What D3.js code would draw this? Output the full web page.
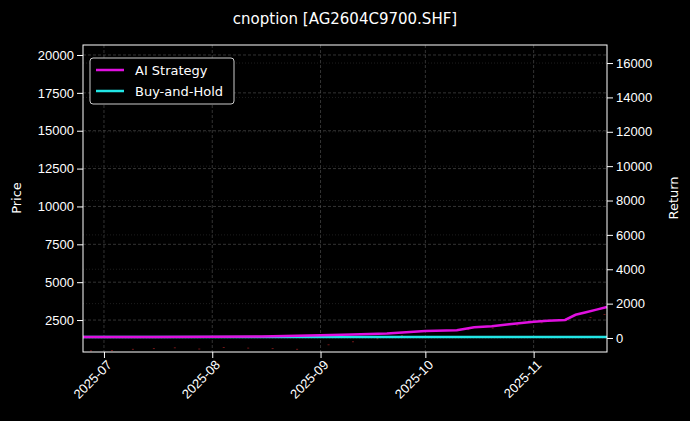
<!DOCTYPE html><html><head><meta charset="utf-8"><script src="https://d3js.org/d3.v7.min.js"></script>
<style>body{margin:0;background:#000}svg{font-family:"DejaVu Sans",sans-serif}</style></head><body><svg id="c" width="690" height="421"></svg>
<script>
const title="cnoption [AG2604C9700.SHF]";
const priceTicks=[2500,5000,7500,10000,12500,15000,17500,20000];
const returnTicks=[0,2000,4000,6000,8000,10000,12000,14000,16000];
const monthTicks=["2025-07-01","2025-08-01","2025-09-01","2025-10-01","2025-11-01"];
const aiDates=["2025-06-25","2025-07-15","2025-08-01","2025-08-15","2025-09-01","2025-09-10","2025-09-20","2025-10-01","2025-10-10","2025-10-15","2025-10-20","2025-10-25","2025-11-01","2025-11-05","2025-11-10","2025-11-13","2025-11-16","2025-11-19","2025-11-22"];
const aiValues=[60,60,70,90,160,210,260,400,450,620,680,800,950,1000,1050,1350,1500,1650,1800];
const bhDates=["2025-06-25","2025-11-22"];
const bhValues=[60,60];
const candleDates=["2025-06-27","2025-07-03","2025-07-09","2025-07-15","2025-07-21","2025-07-28","2025-08-04","2025-08-11","2025-08-18","2025-08-25","2025-09-03","2025-09-10","2025-09-17","2025-09-24","2025-10-13","2025-10-20","2025-10-27","2025-11-03","2025-11-10","2025-11-17","2025-11-21"];
const candleValues=[500,520,600,650,700,620,720,680,650,600,900,1100,1300,1500,1900,2000,2200,2350,2500,2700,2900];
const W=690,H=421,m={l:83,r:607,t:45,b:352};
const svg=d3.select("#c");
svg.append("rect").attr("width",W).attr("height",H).attr("fill","#000");
const p=d=>d3.timeParse("%Y-%m-%d")(d);
const x=d3.scaleTime().domain([p("2025-06-25"),p("2025-11-22")]).range([m.l,m.r]);
const yL=d3.scaleLinear().domain([390,20660]).range([m.b,m.t]);
const yR=d3.scaleLinear().domain([-815,17050]).range([m.b,m.t]);
const g=svg.append("g");
monthTicks.forEach(d=>g.append("line").attr("x1",x(p(d))).attr("x2",x(p(d))).attr("y1",m.t).attr("y2",m.b).attr("stroke","#555").attr("stroke-dasharray","3,2").attr("stroke-width",0.6));
priceTicks.forEach(v=>g.append("line").attr("x1",m.l).attr("x2",m.r).attr("y1",yL(v)).attr("y2",yL(v)).attr("stroke","#555").attr("stroke-dasharray","3,2").attr("stroke-width",0.6));
returnTicks.forEach(v=>g.append("line").attr("x1",m.l).attr("x2",m.r).attr("y1",yR(v)).attr("y2",yR(v)).attr("stroke","#333").attr("stroke-dasharray","1,2").attr("stroke-width",0.6));
candleDates.forEach((d,i)=>g.append("rect").attr("x",x(p(d))).attr("y",yL(candleValues[i])).attr("width",2).attr("height",1).attr("fill","#a02020").attr("opacity",0.7));
const line=(ds,vs)=>d3.line().x((d,i)=>x(p(ds[i]))).y((d,i)=>yR(vs[i]))(vs);
svg.append("path").attr("d",line(bhDates,bhValues)).attr("stroke","#22e5e5").attr("stroke-width",2.5).attr("fill","none");
svg.append("path").attr("d",line(aiDates,aiValues)).attr("stroke","#e010e0").attr("stroke-width",2.5).attr("fill","none");
svg.append("rect").attr("x",m.l).attr("y",m.t).attr("width",m.r-m.l).attr("height",m.b-m.t).attr("fill","none").attr("stroke","#fff").attr("stroke-width",1);
const ax=svg.append("g").attr("transform",`translate(0,${m.b})`).call(d3.axisBottom(x).tickValues(monthTicks.map(p)).tickFormat(d3.timeFormat("%Y-%m")).tickSizeOuter(0));
ax.selectAll("text").attr("transform","rotate(-45)").attr("text-anchor","end").attr("dx","-0.3em").attr("dy","0.5em");
const al=svg.append("g").attr("transform",`translate(${m.l},0)`).call(d3.axisLeft(yL).tickValues(priceTicks).tickFormat(d3.format("d")).tickSizeOuter(0));
const ar=svg.append("g").attr("transform",`translate(${m.r},0)`).call(d3.axisRight(yR).tickValues(returnTicks).tickFormat(d3.format("d")).tickSizeOuter(0));
[ax,al,ar].forEach(a=>{a.select(".domain").remove();a.selectAll("line").attr("stroke","#fff");a.selectAll("text").attr("fill","#fff").style("font-size","13px");});
svg.append("text").attr("x",345).attr("y",24).attr("text-anchor","middle").attr("fill","#fff").style("font-size","15px").text(title);
svg.append("text").attr("transform","translate(21,198) rotate(-90)").attr("text-anchor","middle").attr("fill","#fff").style("font-size","13px").text("Price");
svg.append("text").attr("transform","translate(678,198) rotate(-90)").attr("text-anchor","middle").attr("fill","#fff").style("font-size","13px").text("Return");
const lg=svg.append("g");
lg.append("rect").attr("x",90).attr("y",58).attr("width",144).attr("height",46).attr("rx",3).attr("fill","#000").attr("stroke","#ccc");
[["AI Strategy","#e010e0"],["Buy-and-Hold","#22e5e5"]].forEach((e,i)=>{const yy=70+i*21;
lg.append("line").attr("x1",96).attr("x2",124).attr("y1",yy).attr("y2",yy).attr("stroke",e[1]).attr("stroke-width",2.5);
lg.append("text").attr("x",135).attr("y",yy+4.5).attr("fill","#fff").style("font-size","13px").text(e[0]);});
</script></body></html>
